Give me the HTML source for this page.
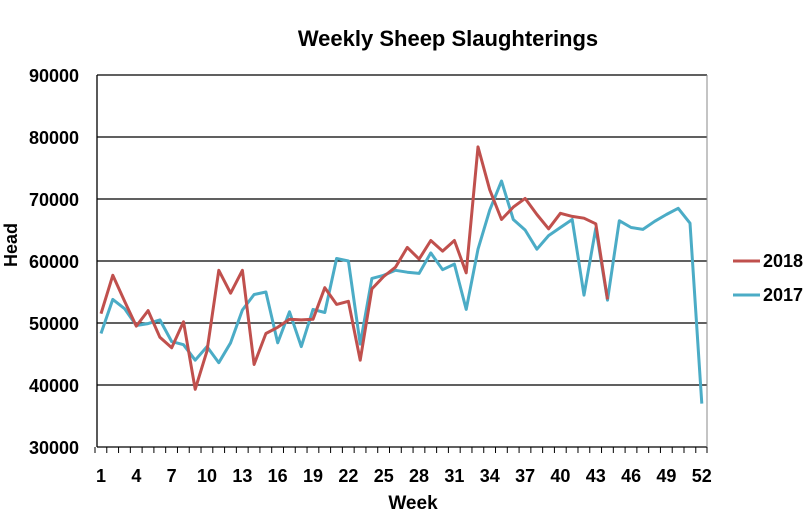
<!DOCTYPE html>
<html><head><meta charset="utf-8"><style>body{margin:0;background:#fff}svg{display:block;font-family:"Liberation Sans",sans-serif;font-weight:bold}</style></head><body>
<svg width="810" height="523" viewBox="0 0 810 523">
<text x="448" y="46" font-size="22" text-anchor="middle">Weekly Sheep Slaughterings</text>
<g stroke="#000" stroke-width="1.3">
<line x1="97" y1="75" x2="707" y2="75"/><line x1="97" y1="137" x2="707" y2="137"/><line x1="97" y1="199" x2="707" y2="199"/><line x1="97" y1="261" x2="707" y2="261"/><line x1="97" y1="323" x2="707" y2="323"/><line x1="97" y1="385" x2="707" y2="385"/><line x1="97" y1="447" x2="707" y2="447"/>
<line x1="97" y1="75" x2="97" y2="447"/>
</g>
<line x1="707" y1="75" x2="707" y2="447" stroke="#888" stroke-width="1"/>
<g id="ticks" stroke="#000" stroke-width="1"></g>
<g font-size="18" text-anchor="end">
<text x="79" y="82">90000</text><text x="79" y="144">80000</text><text x="79" y="206">70000</text><text x="79" y="268">60000</text><text x="79" y="330">50000</text><text x="79" y="392">40000</text><text x="79" y="454">30000</text>
</g>
<g id="xl" font-size="18" text-anchor="middle"></g>
<text x="413" y="509" font-size="19" text-anchor="middle">Week</text>
<text transform="translate(17,245) rotate(-90)" font-size="18" text-anchor="middle">Head</text>
<polyline id="p17" fill="none" stroke="#4BACC6" stroke-width="3" stroke-linejoin="round"/>
<polyline id="p18" fill="none" stroke="#C0504D" stroke-width="3" stroke-linejoin="round"/>
<line x1="733" y1="261" x2="760" y2="261" stroke="#C0504D" stroke-width="3"/>
<line x1="733" y1="295" x2="760" y2="295" stroke="#4BACC6" stroke-width="3"/>
<text x="763" y="267" font-size="18">2018</text>
<text x="763" y="301" font-size="18">2017</text>
</svg>
<script>
var a18=[51500,57700,53500,49500,52000,47700,46000,50200,39300,45500,58500,54800,58500,43300,48300,49300,50600,50500,50600,55700,53000,53500,44000,55500,57500,59000,62200,60300,63300,61600,63300,58100,78400,71500,66700,68700,70100,67500,65200,67700,67200,66900,66000,53800];
var a17=[48300,53800,52300,49600,49900,50500,47000,46500,44000,46200,43600,46800,52100,54600,55000,46800,51800,46200,52200,51700,60400,60000,46600,57200,57700,58500,58200,58000,61300,58600,59500,52200,61900,68200,72900,66700,65000,61900,64100,65400,66700,54500,65300,53700,66500,65400,65100,66400,67500,68500,66100,37000];
function X(i){return 101+i*11.78}function Y(v){return 447-(v-30000)*0.0062}
function pts(a){return a.map(function(v,i){return X(i).toFixed(1)+","+Y(v).toFixed(1)}).join(" ")}
document.getElementById("p18").setAttribute("points",pts(a18));
document.getElementById("p17").setAttribute("points",pts(a17));
var t="",l="";for(var i=0;i<52;i++){t+='<line x1="'+(X(i)-6)+'" y1="447" x2="'+(X(i)-6)+'" y2="453"/>';if(i%3==0)l+='<text x="'+X(i)+'" y="482">'+(i+1)+'</text>';}
t+='<line x1="707" y1="447" x2="707" y2="453"/>';
document.getElementById("ticks").innerHTML=t;document.getElementById("xl").innerHTML=l;
</script>
</body></html>
